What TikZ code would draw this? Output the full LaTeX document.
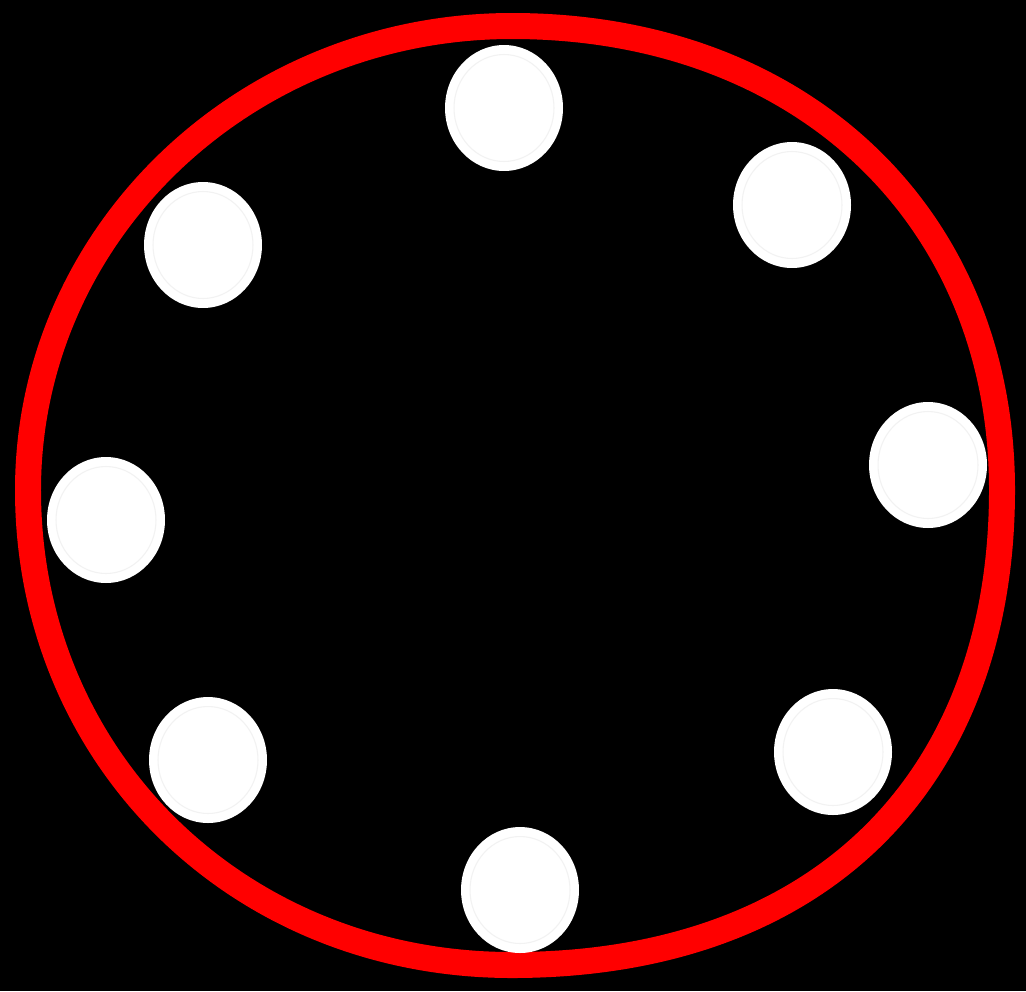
\documentclass[tikz,border=0pt]{standalone}
\usepackage{xcolor}
\usepackage{tikz}
\usetikzlibrary{shapes.geometric}
\tikzset{
  backdrop/.style = {fill=black, draw=none},
  rim/.style      = {draw=red, line width=0.52cm},
  lamp/.style     = {ellipse, fill=white, draw=none, minimum width=2.36cm, minimum height=2.52cm, inner sep=0pt},
  lampring/.style = {ellipse, draw=black!5, line width=0.6pt, minimum width=2.0cm, minimum height=2.14cm, inner sep=0pt},
}
\begin{document}
\begin{tikzpicture}[x=0.02cm,y=-0.02cm]
  \fill[backdrop] (0,0) rectangle (1026,991);
  \useasboundingbox (0,0) rectangle (1026,991);

  % ---- outer red rim: four quarter arcs, a bit squarer on the right ----
  \draw[rim] (512,26)
    .. controls (801.1,26) and (1002,216.2) .. (1002,490)
    .. controls (1002,784.5) and (815.8,965) .. (512,965)
    .. controls (238.5,965) and (28,758.4) .. (28,490)
    .. controls (28,233.7) and (244.7,26) .. cycle;

  % ---- white lamps round the rim ----
  \foreach \n/\x/\y in {top/504/108, topright/792/205, right/928/465, botright/833/752,
                        bot/520/890, botleft/208/760, left/106/520, topleft/203/245} {
    \node[lamp] (\n) at (\x,\y) {};
    \node[lampring] (\n-in) at (\n.center) {};
  }
\end{tikzpicture}
\end{document}
